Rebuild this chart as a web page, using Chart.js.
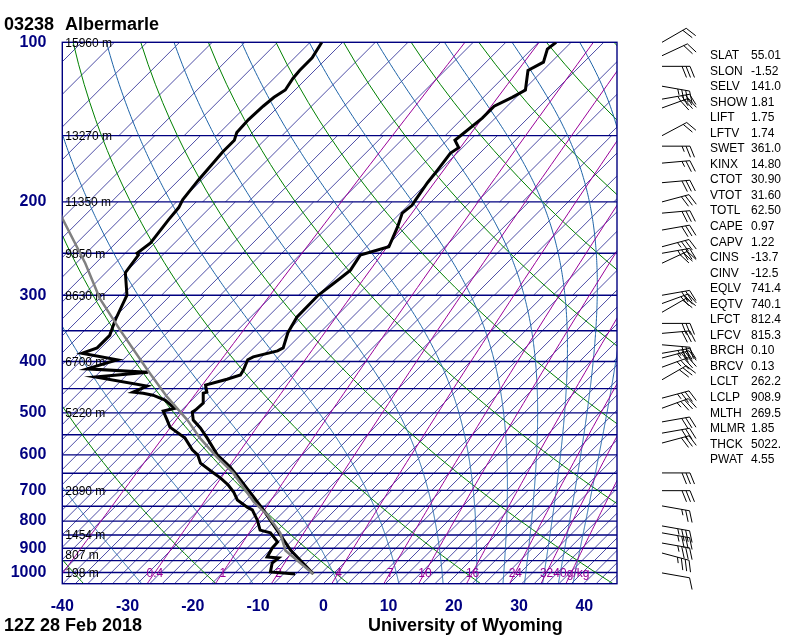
<!DOCTYPE html>
<html>
<head>
<meta charset="utf-8">
<script src="https://cdn.jsdelivr.net/npm/chart.js@4"></script>
<style>
  body { margin: 0; background: #fff; }
  #wrap { position: relative; width: 800px; height: 640px; font-family: 'Liberation Sans', Arial, sans-serif; }
  canvas { position: absolute; left: 0; top: 0; }
  .big { position: absolute; font-weight: bold; font-size: 18px; line-height: 18px; color: #000; white-space: pre; }
  #stats { position: absolute; left: 710px; top: 48px; font-size: 12px; line-height: 15.54px; color: #000; white-space: nowrap; }
  #stats span { display: inline-block; width: 41px; }
</style>
</head>
<body>
<div id="wrap">
  <canvas id="skewt" width="800" height="640"></canvas>
  <div class="big" style="left:4px;top:14.6px">03238</div>
  <div class="big" style="left:65px;top:14.6px">Albermarle</div>
  <div class="big" style="left:4px;top:615.6px">12Z 28 Feb 2018</div>
  <div class="big" style="left:368px;top:615.6px">University of Wyoming</div>
  <div id="stats"></div>
</div>
<script>
// Sounding (pressure hPa, temperature degC)
const tempP = [100, 103, 109, 113, 123, 127, 132, 139, 153, 158, 162, 174, 184, 198, 203, 210, 223, 243, 252, 269, 278, 300, 330, 353, 377, 382, 392, 397, 415, 424, 432, 443, 457, 459, 479, 494, 498, 516, 534, 558, 600, 633, 669, 720, 762, 832, 907, 1007];
const tempT = [-47.3, -47.6, -46.2, -47.3, -44.7, -45.6, -47.0, -47.0, -47.8, -46.1, -46.5, -45.9, -45.5, -44.7, -44.4, -44.7, -43.3, -41.6, -44.7, -43.9, -44.2, -45.0, -44.9, -43.9, -42.3, -42.7, -45.5, -45.9, -45.0, -44.7, -46.1, -48.5, -47.2, -47.6, -46.1, -46.2, -46.4, -45.0, -42.7, -40.1, -36.0, -32.1, -28.6, -24.0, -20.5, -15.3, -10.2, -3.0];

const dwptP = [100, 107, 113, 117, 123, 127, 132, 140, 148, 153, 161, 182, 198, 205, 216, 239, 250, 252, 272, 300, 334, 357, 377, 386, 397, 413, 419, 428, 445, 457, 459, 463, 473, 483, 490, 496, 516, 532, 558, 587, 600, 622, 649, 663, 684, 705, 730, 753, 762, 796, 832, 842, 876, 899, 935, 939, 960, 998, 1007];
const dwptT = [-83.2, -82.3, -82.3, -82.1, -81.5, -82.1, -82.4, -82.6, -82.4, -81.6, -81.6, -81.0, -80.4, -79.8, -79.5, -78.7, -79.2, -78.7, -78.0, -74.3, -72.3, -70.8, -70.8, -72.3, -65.9, -69.1, -59.3, -66.6, -57.3, -58.5, -56.8, -55.0, -52.4, -50.8, -49.6, -51.0, -49.0, -47.5, -43.5, -40.6, -39.0, -37.3, -33.8, -32.0, -29.7, -27.8, -26.0, -23.4, -22.2, -19.9, -17.9, -15.9, -13.4, -13.3, -12.7, -10.8, -11.0, -9.9, -5.8];

// lifted surface parcel (grey)
const parcelP = [200, 216, 261, 304, 349, 415, 467, 516, 558, 606, 649, 736, 779, 842, 909, 1007];
const parcelT = [-99.5, -95.7, -85.6, -78.0, -70.0, -59.7, -52.5, -45.9, -41.2, -35.7, -30.8, -23.2, -19.1, -14.4, -10.9, -3.0];

// winds (hPa, direction deg, speed kt)
const barbP = [100, 106, 111, 121, 128, 133, 150, 157, 169, 184, 200, 210, 226, 243, 250, 261, 300, 311, 323, 339, 354, 372, 386, 394, 410, 433, 469, 490, 520, 546, 570, 649, 701, 749, 817, 842, 880, 919, 1002];
const barbDir = [60, 65, 90, 100, 80, 70, 62, 90, 85, 85, 75, 85, 80, 75, 80, 65, 80, 70, 60, 90, 85, 95, 80, 75, 70, 60, 75, 70, 80, 80, 75, 90, 90, 100, 100, 100, 100, 105, 100];
const barbSpd = [20, 20, 30, 35, 35, 30, 20, 25, 25, 30, 30, 30, 30, 35, 35, 30, 30, 30, 20, 30, 30, 30, 35, 35, 35, 30, 35, 35, 30, 30, 30, 30, 30, 25, 35, 35, 35, 35, 10];

// axes and background lines
const pressTicks = [100, 200, 300, 400, 500, 600, 700, 800, 900, 1000];
const tempTicks = [-40, -30, -20, -10, 0, 10, 20, 30, 40];
const isobars = [100, 150, 200, 250, 300, 350, 400, 450, 500, 550, 600, 650, 700, 750, 800, 850, 900, 950, 1000, 1050];
const heightP = [100, 150, 200, 250, 300, 400, 500, 700, 850, 925, 1000];
const heightM = [15960, 13270, 11350, 9850, 8630, 6700, 5220, 2890, 1454, 807, 198];
const dryTheta = [233.15, 253.15, 273.15, 293.15, 313.15, 333.15, 353.15, 373.15, 393.15, 413.15, 433.15, 453.15];
const moistTheta = [243, 263, 283, 303, 323, 343, 363, 383, 403, 423, 443];
const mixRatios = [0.1, 0.4, 1, 2, 4, 7, 10, 16, 24, 32, 40];
const mixLabels = ['', '0.4', '1', '2', '4', '7', '10', '16', '24', '32', '40g/kg'];
const hatchEdges = [100, 150, 200, 300, 400, 700, 1050];
const hatchStep = [5, 3.5, 3.0, 2.6, 2.3, 1.9];

const statNames = ['SLAT', 'SLON', 'SELV', 'SHOW', 'LIFT', 'LFTV', 'SWET', 'KINX', 'CTOT', 'VTOT', 'TOTL', 'CAPE', 'CAPV', 'CINS', 'CINV', 'EQLV', 'EQTV', 'LFCT', 'LFCV', 'BRCH', 'BRCV', 'LCLT', 'LCLP', 'MLTH', 'MLMR', 'THCK', 'PWAT'];
const statValues = ['55.01', '-1.52', '141.0', '1.81', '1.75', '1.74', '361.0', '14.80', '30.90', '31.60', '62.50', '0.97', '1.22', '-13.7', '-12.5', '741.4', '740.1', '812.4', '815.3', '0.10', '0.13', '262.2', '908.9', '269.5', '1.85', '5022.', '4.55'];

document.getElementById('stats').innerHTML = statNames
    .map((n, i) => `<div><span>${n}</span>${statValues[i]}</div>`).join('');

// skew: isotherms at 45 degrees
const SKEW = 81.25;
const P_BASE = 1050;
const skewX = (t, p) => t + SKEW * Math.log10(P_BASE / p);

const NAVY = '#000080';
const FONT = "'Liberation Sans', Arial, sans-serif";

function satVap(tc) { return 6.112 * Math.exp(17.67 * tc / (tc + 243.5)); }
function dewFromVap(e) { const a = Math.log(e / 6.112); return 243.5 * a / (17.67 - a); }

function moistLapse(tk, p) {
    const es = satVap(tk - 273.15);
    const rs = 0.622 * es / (p - es);
    const Lv = 2.501e6, Rd = 287.04, cp = 1005.7;
    return (Rd * tk + Lv * rs) / (cp + Lv * Lv * rs * 0.622 / (Rd * tk * tk)) / p;
}

const skewBackground = {
    id: 'skewBackground',
    beforeDatasetsDraw(chart) {
        const { ctx, chartArea: a, scales: { x, y } } = chart;
        const px = (t, p) => x.getPixelForValue(skewX(t, p));
        const py = p => y.getPixelForValue(p);
        const line = (pts, color, w) => {
            ctx.beginPath();
            pts.forEach(([t, p], i) => i ? ctx.lineTo(px(t, p), py(p)) : ctx.moveTo(px(t, p), py(p)));
            ctx.strokeStyle = color;
            ctx.lineWidth = w;
            ctx.stroke();
        };

        ctx.save();
        ctx.beginPath();
        ctx.rect(a.left, a.top, a.right - a.left, a.bottom - a.top);
        ctx.clip();

        // diagonal hatching
        hatchStep.forEach((s, i) => {
            const p1 = hatchEdges[i], p2 = hatchEdges[i + 1];
            for (let k = Math.floor(-200 / s); k * s < 60; k++) {
                line([[k * s, p2], [k * s, p1]], NAVY, 0.7);
            }
        });

        // isobars
        isobars.forEach(p => {
            ctx.beginPath();
            ctx.moveTo(a.left, py(p));
            ctx.lineTo(a.right, py(p));
            ctx.strokeStyle = NAVY;
            ctx.lineWidth = 1.4;
            ctx.stroke();
        });

        // dry adiabats
        dryTheta.forEach(th => {
            const pts = [];
            for (let p = 1050; p >= 100; p -= 10) pts.push([th * Math.pow(p / 1000, 0.2857) - 273.15, p]);
            line(pts, '#008000', 1);
        });

        // moist adiabats, integrated down from the top of the diagram
        moistTheta.forEach(th => {
            let tk = th * Math.pow(0.1, 0.2857);
            const pts = [[tk - 273.15, 100]];
            const dp = 2;
            for (let p = 100; p < 1050; p += dp) {
                const k1 = moistLapse(tk, p);
                const k2 = moistLapse(tk + k1 * dp / 2, p + dp / 2);
                tk += k2 * dp;
                pts.push([tk - 273.15, p + dp]);
            }
            line(pts, '#1f64a8', 1);
        });

        // mixing ratio lines
        mixRatios.forEach(w => {
            const pts = [];
            for (let p = 1050; p >= 100; p -= 10) {
                const e = (w / 1000) * p / (0.622 + w / 1000);
                pts.push([dewFromVap(e), p]);
            }
            line(pts, '#990099', 1);
        });
        ctx.restore();

        // frame
        ctx.save();
        ctx.strokeStyle = NAVY;
        ctx.lineWidth = 1.4;
        ctx.strokeRect(a.left, a.top, a.right - a.left, a.bottom - a.top);

        // height labels on the isobars
        ctx.font = `12px ${FONT}`;
        ctx.fillStyle = '#000';
        ctx.textBaseline = 'middle';
        ctx.textAlign = 'left';
        heightP.forEach((p, i) => ctx.fillText(`${heightM[i]} m`, a.left + 3, py(p) + 1));

        // mixing ratio labels at 1000 hPa
        ctx.fillStyle = '#990099';
        ctx.textAlign = 'center';
        mixRatios.forEach((w, i) => {
            if (!mixLabels[i]) return;
            const e = (w / 1000) * 1000 / (0.622 + w / 1000);
            ctx.fillText(mixLabels[i], px(dewFromVap(e), 1000), py(1000) + 1);
        });
        ctx.restore();
    }
};

const windBarbs = {
    id: 'windBarbs',
    afterDraw(chart) {
        const { ctx, scales: { y } } = chart;
        const rot = 68 * Math.PI / 180;
        ctx.save();
        ctx.strokeStyle = '#000';
        ctx.lineWidth = 1;
        barbP.forEach((p, i) => {
            const x0 = 662, y0 = y.getPixelForValue(p);
            const d = barbDir[i] * Math.PI / 180;
            const ux = Math.sin(d), uy = -Math.cos(d);
            const tx = x0 + ux * 28, ty = y0 + uy * 28;
            const fx = ux * Math.cos(rot) - uy * Math.sin(rot);
            const fy = ux * Math.sin(rot) + uy * Math.cos(rot);
            ctx.beginPath();
            ctx.moveTo(x0, y0);
            ctx.lineTo(tx, ty);
            let spd = Math.round(barbSpd[i] / 5) * 5, pos = 0;
            while (spd >= 10) {
                const bx = tx - ux * pos, by = ty - uy * pos;
                ctx.moveTo(bx, by);
                ctx.lineTo(bx + fx * 12, by + fy * 12);
                pos += 4;
                spd -= 10;
            }
            if (spd >= 5) {
                if (pos === 0) pos = 4;
                const bx = tx - ux * pos, by = ty - uy * pos;
                ctx.moveTo(bx, by);
                ctx.lineTo(bx + fx * 6, by + fy * 6);
            }
            ctx.stroke();
        });
        ctx.restore();
    }
};

const toPoints = (ps, ts) => ps.map((p, i) => ({ x: skewX(ts[i], p), y: p }));

new Chart(document.getElementById('skewt'), {
    type: 'scatter',
    data: {
        datasets: [{
            label: 'Parcel',
            data: toPoints(parcelP, parcelT),
            showLine: true,
            borderColor: '#808080',
            borderWidth: 2.5,
            pointRadius: 0
        }, {
            label: 'Dewpoint',
            data: toPoints(dwptP, dwptT),
            showLine: true,
            borderColor: '#000',
            borderWidth: 3,
            pointRadius: 0
        }, {
            label: 'Temperature',
            data: toPoints(tempP, tempT),
            showLine: true,
            borderColor: '#000',
            borderWidth: 3,
            pointRadius: 0
        }]
    },
    options: {
        responsive: false,
        animation: false,
        layout: { padding: { left: 0, top: 42.3, right: 183, bottom: 26.3 } },
        plugins: {
            legend: { display: false },
            tooltip: { enabled: false }
        },
        scales: {
            x: {
                type: 'linear',
                min: -40,
                max: 45,
                afterBuildTicks: s => { s.ticks = tempTicks.map(v => ({ value: v })); },
                afterFit: s => { s.height = 30; },
                grid: { display: false, drawTicks: false },
                border: { display: false },
                ticks: {
                    color: NAVY,
                    padding: 13,
                    autoSkip: false,
                    maxRotation: 0,
                    font: { family: FONT, size: 16, weight: 'bold' }
                }
            },
            y: {
                type: 'logarithmic',
                reverse: true,
                min: 100,
                max: 1050,
                afterBuildTicks: s => { s.ticks = pressTicks.map(v => ({ value: v })); },
                afterFit: s => { s.width = 62.3; },
                grid: { display: false, drawTicks: false },
                border: { display: false },
                ticks: {
                    color: NAVY,
                    padding: 16,
                    autoSkip: false,
                    callback: v => String(v),
                    font: { family: FONT, size: 16, weight: 'bold' }
                }
            }
        }
    },
    plugins: [skewBackground, windBarbs]
});
</script>
</body>
</html>
